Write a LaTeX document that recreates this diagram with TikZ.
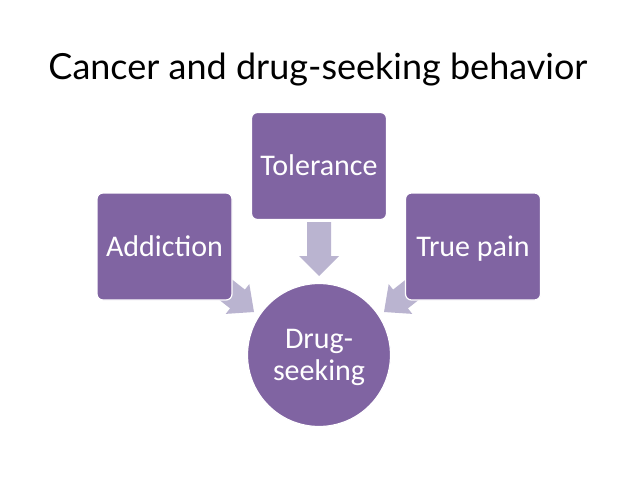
\documentclass[tikz,border=0pt]{standalone}
\usepackage{fontspec}
\setmainfont{Carlito}
\newfontfamily\titlefont{Lato}
\definecolor{boxpurple}{RGB}{128,100,162}
\definecolor{arrowlav}{RGB}{186,180,208}
\begin{document}
\begin{tikzpicture}[x=1pt,y=-1pt,
  blockbox/.style={draw=white, line width=1.2pt, fill=boxpurple, rounded corners=6pt,
    minimum width=135pt, minimum height=107pt, inner sep=0pt, text=white,
    font=\fontsize{30}{33}\selectfont, text height=19.5pt, text depth=0pt},
  hub/.style={circle, draw=white, line width=1.2pt, fill=boxpurple, minimum size=143pt,
    inner sep=0pt, text=white, align=center, font=\fontsize{30}{32}\selectfont,
    text depth=0pt},
  blockarrow/.style={fill=arrowlav, draw=none}]
\useasboundingbox (0,0) rectangle (638,479);
\fill[white] (0,0) rectangle (638,479);
\node[font=\titlefont\fontsize{36}{40}\selectfont, anchor=base] (title) at (318,79) {Cancer and drug-seeking behavior};
% arrows (behind boxes)
\fill[blockarrow] (307,222) -- (331,222) -- (331,256) -- (339,256) -- (319,276) -- (299,256) -- (307,256) -- cycle;
\fill[blockarrow] (206.5,289.8) -- (221.3,271) -- (244.9,289.6) -- (249.3,284.1) -- (254,312) -- (225.7,313.9) -- (230.1,308.4) -- cycle;
\fill[blockarrow] (431.5,289.8) -- (416.7,271) -- (393.1,289.6) -- (388.7,284.1) -- (384,312) -- (412.3,313.9) -- (407.9,308.4) -- cycle;
% nodes
\node[blockbox] (tol) at (319,166) {Tolerance};
\node[blockbox] (add) at (164.5,246.5) {Addiction};
\node[blockbox] (pain) at (473,246.5) {True pain};
\node[hub] (drug) at (319,355) {Drug-\\seeking};
\end{tikzpicture}
\end{document}
